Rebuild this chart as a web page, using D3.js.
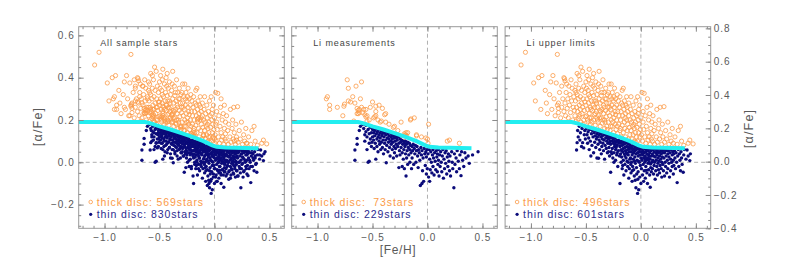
<!DOCTYPE html>
<html>
<head>
<meta charset="utf-8">
<script src="https://cdn.jsdelivr.net/npm/d3@7"></script>
<style>
body { margin: 0; background: #fff; }
svg { display: block; font-family: "Liberation Sans", Arial, sans-serif; }
</style>
</head>
<body>
<svg width="789" height="263"></svg>
<script>
// [Fe/H], [alpha/Fe]

// Li measurements, thick disc
var measThick = [[-0.73,0.39],[-0.72,0.35],[-0.65,0.36],[-0.60,0.38],[-0.92,0.30],[-0.91,0.31],[-0.89,0.27],[-0.89,0.25],
  [-0.82,0.26],[-0.77,0.22],[-0.76,0.265],[-0.755,0.275],[-0.72,0.29],[-0.70,0.285],[-0.61,0.30],[-0.64,0.255],[-0.63,0.245],
  [-0.62,0.235],[-0.63,0.23],[-0.64,0.23],[-0.62,0.25],[-0.58,0.25],[-0.56,0.25],[-0.55,0.22],[-0.56,0.215],[-0.53,0.20],
  [-0.52,0.26],[-0.50,0.285],[-0.47,0.265],[-0.44,0.27],[-0.41,0.255],[-0.47,0.24],[-0.47,0.22],[-0.48,0.215],[-0.49,0.21],
  [-0.38,0.23],[-0.39,0.225],[-0.43,0.19],[-0.42,0.195],[-0.38,0.19],[-0.67,0.195],[-0.24,0.19],[-0.15,0.205],[-0.12,0.21],
  [-0.21,0.135],[-0.20,0.13],[-0.19,0.125],[-0.195,0.14],[-0.21,0.125],[-0.18,0.14],[-0.10,0.13],[-0.055,0.12],[-0.015,0.115],
  [0.01,0.18],[0.005,0.09],[0.18,0.10],[0.20,0.105],[0.29,0.09],[-0.155,0.20],[-0.10,0.125],[0.0,0.11],[-0.57,0.225],
  [-0.59,0.235],[-0.60,0.26],[-0.66,0.28],[-0.68,0.31],[-0.35,0.18],[-0.31,0.165],[-0.27,0.15],[-0.30,0.17],[-0.55,0.195],
  [-0.45,0.20],[-0.22,0.115]];

// Li measurements, thin disc
var measThin = [[-0.66,0.058],[-0.66,0.01],[-0.64,0.113],[-0.64,0.085],[-0.62,0.15],[-0.61,0.17],
  [-0.59,0.18],[-0.58,0.16],[-0.57,0.13],[-0.57,0.10],[-0.56,0.175],[-0.56,0.145],[-0.55,0.12],[-0.55,0.06],[-0.54,0.0],
  [-0.54,0.155],[-0.53,0.09],[-0.53,0.135],[-0.53,0.005],[-0.52,0.165],[-0.52,0.11],[-0.51,0.14],[-0.51,0.075],[-0.50,0.155],
  [-0.50,0.12],[-0.505,0.095],
  [-0.495,0.16],[-0.49,0.14],[-0.49,0.105],[-0.485,0.065],[-0.48,0.15],[-0.48,0.125],[-0.475,0.09],[-0.47,0.015],[-0.47,0.158],
  [-0.465,0.135],[-0.46,0.11],[-0.46,0.075],[-0.455,0.145],[-0.45,0.12],[-0.45,0.05],[-0.445,0.155],[-0.44,0.10],[-0.44,0.13],
  [-0.435,0.085],[-0.43,0.14],[-0.43,0.115],[-0.425,0.06],[-0.42,0.15],[-0.42,0.095],[-0.415,0.125],[-0.41,0.135],[-0.41,0.07],
  [-0.405,0.105],[-0.40,0.145],[-0.40,0.04],
  [-0.395,0.12],[-0.39,0.14],[-0.39,0.09],[-0.385,0.06],[-0.38,0.13],[-0.38,0.105],[-0.375,-0.002],[-0.37,0.145],[-0.37,0.08],
  [-0.365,0.115],[-0.36,0.135],[-0.36,0.05],[-0.355,0.095],[-0.35,0.125],[-0.35,0.11],[-0.345,0.07],[-0.34,0.14],[-0.34,0.03],
  [-0.335,0.10],[-0.33,0.12],[-0.33,0.085],[-0.325,0.13],[-0.32,0.06],[-0.32,0.11],[-0.315,0.095],[-0.31,0.125],[-0.31,0.02],
  [-0.305,0.075],[-0.30,0.115],[-0.30,0.045],
  [-0.295,0.10],[-0.29,0.125],[-0.29,0.065],[-0.285,0.085],[-0.28,0.115],[-0.28,0.03],[-0.275,0.105],[-0.27,0.075],[-0.265,0.12],
  [-0.26,-0.025],[-0.26,0.09],[-0.255,0.055],[-0.25,0.11],[-0.25,0.035],[-0.245,0.095],[-0.24,0.07],[-0.235,0.105],[-0.23,-0.02],
  [-0.23,0.045],[-0.225,0.085],[-0.22,0.10],[-0.22,0.015],[-0.215,0.06],[-0.21,0.09],[-0.21,-0.03],[-0.205,0.075],[-0.20,0.04],
  [-0.20,0.10],
  [-0.195,-0.065],[-0.19,0.085],[-0.19,0.02],[-0.185,0.055],[-0.18,0.095],[-0.18,-0.01],[-0.175,0.07],[-0.17,0.035],[-0.165,0.09],
  [-0.16,0.0],[-0.16,0.06],[-0.155,0.08],[-0.15,0.045],[-0.145,-0.03],[-0.14,0.075],[-0.14,0.02],[-0.135,0.055],[-0.13,0.085],
  [-0.125,-0.01],[-0.12,0.065],[-0.115,0.04],[-0.11,0.08],[-0.105,0.0],[-0.10,0.055],
  [-0.095,0.075],[-0.09,0.03],[-0.085,-0.025],[-0.08,0.06],[-0.075,0.045],[-0.07,0.01],[-0.065,-0.11],[-0.06,0.07],[-0.055,0.035],
  [-0.05,-0.10],[-0.05,0.055],[-0.045,-0.04],[-0.04,0.02],[-0.035,-0.09],[-0.03,0.065],[-0.025,0.04],[-0.02,-0.015],[-0.015,0.05],
  [-0.01,-0.055],[-0.01,0.025],[-0.005,0.06],[-0.002,-0.03],
  [0.005,0.04],[0.01,-0.07],[0.015,0.06],[0.02,-0.09],[0.02,0.015],[0.025,-0.035],[0.03,0.05],[0.035,0.0],[0.04,-0.05],
  [0.045,0.035],[0.05,0.06],[0.05,-0.02],[0.055,0.02],[0.06,-0.06],[0.065,0.045],[0.07,0.005],[0.075,-0.035],[0.08,0.055],
  [0.085,0.025],[0.09,-0.045],[0.09,0.04],[0.095,-0.01],[0.10,0.06],[0.10,0.01],
  [0.105,-0.065],[0.11,0.035],[0.115,-0.02],[0.12,0.05],[0.125,0.0],[0.13,-0.045],[0.135,0.03],[0.14,0.06],[0.145,-0.075],
  [0.15,0.015],[0.155,-0.03],[0.16,0.045],[0.165,-0.005],[0.17,0.055],[0.175,-0.055],[0.18,0.025],[0.185,-0.02],[0.19,0.04],
  [0.195,0.005],[0.20,-0.04],
  [0.205,0.03],[0.21,-0.065],[0.22,0.05],[0.225,0.0],[0.23,-0.03],[0.24,-0.12],[0.245,0.04],[0.25,-0.01],[0.26,0.02],
  [0.265,-0.045],[0.27,0.055],[0.28,0.005],[0.29,-0.03],[0.295,0.035],
  [0.305,-0.063],[0.31,0.05],[0.32,0.01],[0.33,-0.02],[0.34,0.045],[0.35,0.02],[0.37,0.03],[0.38,-0.005],
  [0.41,0.035],[0.46,0.05]];

// Li upper limits, thick disc
var upperThick = [[-1.09,0.46],[-1.05,0.52],[-0.975,0.375],[-0.96,0.29],[-0.93,0.40],[-0.91,0.25],
  [-0.90,0.41],[-0.87,0.34],[-0.86,0.28],[-0.85,0.23],[-0.83,0.32],[-0.82,0.38],[-0.81,0.25],[-0.80,0.41],
  [-0.79,0.30],[-0.78,0.22],[-0.77,0.375],[-0.76,0.51],[-0.76,0.27],[-0.75,0.28],[-0.75,0.235],[-0.75,0.255],[-0.74,0.33],
  [-0.73,0.21],[-0.72,0.36],[-0.72,0.26],[-0.71,0.30],[-0.70,0.40],
  [-0.70,0.24],[-0.695,0.395],[-0.69,0.385],[-0.69,0.28],[-0.685,0.22],[-0.68,0.33],[-0.675,0.37],[-0.67,0.255],[-0.665,0.30],
  [-0.66,0.21],[-0.655,0.36],[-0.65,0.27],[-0.645,0.32],[-0.64,0.235],[-0.635,0.39],[-0.63,0.29],[-0.625,0.35],[-0.62,0.20],
  [-0.615,0.26],[-0.61,0.31],[-0.605,0.245],[-0.60,0.34],
  [-0.60,0.22],[-0.595,0.29],[-0.59,0.37],[-0.59,0.195],[-0.585,0.26],[-0.58,0.32],[-0.58,0.42],[-0.575,0.24],[-0.57,0.30],
  [-0.57,0.205],[-0.565,0.35],[-0.56,0.27],[-0.56,0.215],[-0.555,0.39],[-0.55,0.31],[-0.55,0.25],[-0.545,0.19],[-0.54,0.28],
  [-0.54,0.34],[-0.535,0.23],[-0.53,0.43],[-0.53,0.26],[-0.525,0.30],[-0.52,0.20],[-0.52,0.36],[-0.515,0.245],[-0.51,0.285],
  [-0.51,0.33],[-0.505,0.215],[-0.50,0.27],[-0.50,0.38],[-0.545,0.45],[-0.565,0.41],[-0.59,0.33],[-0.555,0.225],[-0.525,0.18],
  [-0.495,0.22],[-0.49,0.30],[-0.49,0.41],[-0.485,0.25],[-0.48,0.19],[-0.48,0.34],[-0.475,0.28],[-0.47,0.23],[-0.47,0.44],
  [-0.465,0.31],[-0.46,0.26],[-0.46,0.18],[-0.455,0.37],[-0.45,0.21],[-0.45,0.29],[-0.445,0.33],[-0.44,0.245],[-0.44,0.40],
  [-0.435,0.27],[-0.43,0.20],[-0.43,0.315],[-0.425,0.225],[-0.42,0.35],[-0.42,0.26],[-0.415,0.175],[-0.41,0.29],[-0.41,0.38],
  [-0.405,0.24],[-0.40,0.21],[-0.40,0.32],[-0.495,0.35],[-0.485,0.20],[-0.475,0.39],[-0.465,0.21],[-0.455,0.25],[-0.445,0.19],
  [-0.435,0.36],[-0.425,0.29],[-0.415,0.23],[-0.405,0.28],[-0.475,0.32],[-0.43,0.42],
  [-0.395,0.26],[-0.39,0.19],[-0.39,0.34],[-0.385,0.22],[-0.38,0.30],[-0.38,0.43],[-0.375,0.245],[-0.37,0.17],[-0.37,0.28],
  [-0.365,0.36],[-0.36,0.21],[-0.36,0.315],[-0.355,0.25],[-0.35,0.185],[-0.35,0.29],[-0.345,0.39],[-0.34,0.23],[-0.34,0.27],
  [-0.335,0.33],[-0.33,0.20],[-0.33,0.16],[-0.325,0.30],[-0.32,0.245],[-0.32,0.35],[-0.315,0.215],[-0.31,0.28],[-0.31,0.17],
  [-0.305,0.32],[-0.30,0.235],[-0.30,0.26],[-0.395,0.20],[-0.385,0.37],[-0.375,0.21],[-0.365,0.24],[-0.355,0.33],[-0.345,0.20],
  [-0.335,0.26],[-0.325,0.19],[-0.315,0.30],[-0.305,0.155],
  [-0.295,0.19],[-0.29,0.28],[-0.29,0.37],[-0.285,0.22],[-0.28,0.15],[-0.28,0.31],[-0.275,0.25],[-0.27,0.37],[-0.27,0.20],
  [-0.265,0.27],[-0.26,0.17],[-0.26,0.33],[-0.255,0.23],[-0.25,0.29],[-0.25,0.14],[-0.245,0.21],[-0.24,0.26],[-0.24,0.35],
  [-0.235,0.18],[-0.23,0.30],[-0.23,0.225],[-0.225,0.155],[-0.22,0.27],[-0.22,0.20],[-0.215,0.32],[-0.21,0.24],[-0.21,0.135],
  [-0.205,0.29],[-0.20,0.18],[-0.20,0.22],[-0.295,0.33],[-0.285,0.26],[-0.275,0.17],[-0.265,0.30],[-0.255,0.19],[-0.245,0.31],
  [-0.235,0.24],[-0.215,0.17],
  [-0.195,0.26],[-0.19,0.15],[-0.19,0.31],[-0.185,0.20],[-0.18,0.24],[-0.18,0.12],[-0.175,0.28],[-0.17,0.175],[-0.17,0.34],
  [-0.165,0.22],[-0.16,0.35],[-0.16,0.14],[-0.155,0.25],[-0.15,0.19],[-0.15,0.29],[-0.145,0.16],[-0.14,0.23],[-0.14,0.12],
  [-0.135,0.27],[-0.13,0.20],[-0.13,0.31],[-0.125,0.15],[-0.12,0.24],[-0.12,0.18],[-0.115,0.11],[-0.11,0.22],[-0.11,0.28],
  [-0.105,0.165],[-0.10,0.20],[-0.10,0.13],[-0.185,0.16],[-0.165,0.27],[-0.145,0.21],[-0.125,0.26],
  [-0.095,0.25],[-0.09,0.15],[-0.09,0.31],[-0.085,0.19],[-0.08,0.11],[-0.08,0.23],[-0.075,0.17],[-0.07,0.27],[-0.07,0.13],
  [-0.065,0.21],[-0.06,0.10],[-0.06,0.16],[-0.055,0.24],[-0.05,0.19],[-0.05,0.14],[-0.045,0.29],[-0.04,0.12],[-0.04,0.22],
  [-0.035,0.165],[-0.03,0.31],[-0.03,0.10],[-0.025,0.20],[-0.02,0.14],[-0.02,0.25],[-0.015,0.18],[-0.01,0.12],[-0.01,0.27],
  [-0.005,0.155],[0.0,0.21],[-0.065,0.18],[-0.045,0.095],[-0.025,0.23],
  [0.005,0.13],[0.01,0.33],[0.015,0.10],[0.02,0.19],[0.025,0.155],[0.03,0.326],[0.035,0.12],[0.04,0.22],[0.045,0.09],
  [0.05,0.17],[0.055,0.26],[0.06,0.14],[0.065,0.105],[0.07,0.20],[0.075,0.12],[0.08,0.23],[0.085,0.085],[0.09,0.16],
  [0.09,0.27],[0.095,0.11],[0.10,0.19],[0.10,0.135],[0.02,0.24],[0.06,0.30],
  [0.105,0.10],[0.11,0.22],[0.12,0.15],[0.125,0.085],[0.13,0.18],[0.14,0.12],[0.145,0.25],[0.15,0.095],[0.16,0.16],
  [0.165,0.20],[0.17,0.11],[0.175,0.26],[0.18,0.14],[0.19,0.085],[0.195,0.18],[0.20,0.12],
  [0.21,0.263],[0.215,0.095],[0.225,0.15],[0.235,0.11],[0.245,0.19],[0.255,0.085],[0.265,0.13],[0.275,0.10],[0.285,0.16],
  [0.295,0.09],[0.31,0.12],[0.33,0.085],[0.34,0.15],[0.36,0.17],[0.37,0.10],[0.39,0.08],
  [0.43,0.09],[0.445,0.105],[0.475,0.087]];

// Li upper limits, thin disc
var upperThin = [[-0.585,0.058],[-0.58,0.093],[-0.575,0.15],[-0.57,0.12],[-0.56,0.17],[-0.555,0.105],[-0.55,0.14],
  [-0.54,0.075],[-0.535,0.16],[-0.53,0.093],[-0.52,0.068],[-0.515,0.13],[-0.51,0.15],[-0.505,0.11],
  [-0.495,0.16],[-0.49,0.13],[-0.485,0.09],[-0.48,0.145],[-0.475,0.115],[-0.47,0.06],[-0.465,0.155],[-0.46,0.10],[-0.455,0.03],
  [-0.45,0.135],[-0.445,0.08],[-0.44,0.15],[-0.435,0.12],[-0.43,0.045],[-0.425,0.14],[-0.42,0.095],[-0.415,0.125],[-0.41,0.15],
  [-0.41,0.07],[-0.405,0.11],[-0.40,0.135],[-0.40,0.02],
  [-0.395,0.12],[-0.39,0.145],[-0.39,0.085],[-0.385,0.019],[-0.38,0.13],[-0.38,0.105],[-0.375,0.06],[-0.37,0.14],[-0.37,0.095],
  [-0.365,0.12],[-0.36,0.04],[-0.36,0.135],[-0.355,0.075],[-0.35,0.11],[-0.35,0.125],[-0.345,0.09],[-0.34,0.14],[-0.34,0.055],
  [-0.335,0.105],[-0.33,0.13],[-0.33,0.015],[-0.325,0.08],[-0.32,0.115],[-0.32,0.135],[-0.315,0.065],[-0.31,0.10],[-0.31,0.125],
  [-0.305,0.045],[-0.30,0.09],[-0.30,0.12],
  [-0.295,0.11],[-0.29,0.125],[-0.29,0.07],[-0.285,0.03],[-0.28,0.10],[-0.28,0.115],[-0.275,-0.047],[-0.275,0.085],[-0.27,0.12],
  [-0.27,0.05],[-0.265,0.10],[-0.26,0.065],[-0.26,0.115],[-0.255,0.02],[-0.25,0.09],[-0.25,0.11],[-0.245,0.045],[-0.24,0.10],
  [-0.24,0.075],[-0.235,0.115],[-0.23,0.01],[-0.23,0.06],[-0.225,0.095],[-0.22,0.105],[-0.22,0.035],[-0.215,0.08],[-0.21,0.10],
  [-0.21,-0.02],[-0.205,0.055],[-0.20,0.09],[-0.20,0.105],[-0.295,0.05],[-0.285,0.09],[-0.265,0.04],[-0.245,0.0],[-0.235,0.085],
  [-0.225,0.07],[-0.215,0.045],
  [-0.195,0.10],[-0.19,0.075],[-0.19,-0.10],[-0.185,0.04],[-0.185,0.09],[-0.18,0.06],[-0.18,0.0],[-0.175,0.10],[-0.175,0.025],
  [-0.17,0.08],[-0.17,-0.03],[-0.165,0.05],[-0.165,0.095],[-0.16,0.065],[-0.16,0.01],[-0.155,0.085],[-0.155,-0.06],[-0.15,0.04],
  [-0.15,0.10],[-0.145,0.07],[-0.145,-0.01],[-0.14,0.055],[-0.14,0.09],[-0.135,0.02],[-0.135,-0.04],[-0.13,0.075],[-0.13,0.045],
  [-0.125,0.095],[-0.125,0.005],[-0.12,0.06],[-0.12,-0.02],[-0.115,0.085],[-0.115,0.035],[-0.11,0.07],[-0.11,-0.075],[-0.105,0.05],
  [-0.105,0.09],[-0.10,0.015],[-0.10,0.065],[-0.195,0.03],[-0.175,0.055],[-0.165,-0.015],[-0.145,0.03],[-0.125,0.04],[-0.115,0.0],
  [-0.105,-0.03],
  [-0.095,0.08],[-0.095,0.02],[-0.09,0.05],[-0.09,-0.05],[-0.085,0.07],[-0.085,0.0],[-0.08,0.035],[-0.08,-0.09],[-0.075,0.06],
  [-0.075,-0.02],[-0.07,0.08],[-0.07,0.015],[-0.065,0.045],[-0.065,-0.035],[-0.06,0.065],[-0.06,-0.065],[-0.055,0.025],
  [-0.055,0.055],[-0.05,-0.005],[-0.05,0.075],[-0.045,0.04],[-0.045,-0.12],[-0.04,0.06],[-0.04,-0.025],[-0.035,0.01],[-0.035,0.07],
  [-0.03,0.045],[-0.03,-0.147],[-0.025,-0.045],[-0.025,0.03],[-0.02,0.065],[-0.02,-0.13],[-0.015,0.0],[-0.015,0.05],[-0.01,-0.07],
  [-0.01,0.035],[-0.005,0.07],[-0.005,-0.015],[0.0,0.02],[0.0,-0.10],[-0.092,-0.01],[-0.072,0.045],[-0.058,0.005],[-0.042,0.08],
  [-0.038,-0.055],[-0.022,0.005],[-0.012,0.06],[-0.052,-0.085],[-0.078,-0.04],[-0.028,-0.08],
  [0.005,0.05],[0.005,-0.03],[0.01,0.065],[0.01,0.01],[0.015,-0.06],[0.015,0.035],[0.02,0.055],[0.02,-0.01],[0.025,0.02],
  [0.025,-0.09],[0.03,0.045],[0.03,-0.04],[0.035,0.065],[0.035,0.0],[0.04,0.03],[0.04,-0.075],[0.045,0.05],[0.045,-0.02],
  [0.05,0.01],[0.05,0.06],[0.055,-0.05],[0.055,0.04],[0.06,0.02],[0.06,-0.10],[0.065,0.055],[0.065,-0.005],[0.07,0.035],
  [0.07,-0.035],[0.075,0.065],[0.075,0.0],[0.08,0.045],[0.08,-0.06],[0.085,-0.118],[0.085,0.015],[0.09,0.055],[0.09,-0.025],
  [0.095,0.03],[0.095,-0.045],[0.10,0.06],[0.10,0.0],[0.012,0.042],[0.032,0.022],[0.048,-0.038],[0.058,0.068],[0.068,0.012],
  [0.078,0.028],[0.088,-0.008],[0.042,0.012],
  [0.105,0.04],[0.105,-0.03],[0.11,0.06],[0.11,0.01],[0.115,-0.055],[0.115,0.03],[0.12,0.05],[0.12,-0.015],[0.125,0.065],
  [0.125,0.0],[0.13,-0.08],[0.13,0.025],[0.135,0.045],[0.135,-0.04],[0.14,0.06],[0.14,0.01],[0.145,-0.02],[0.145,0.035],
  [0.15,0.055],[0.15,-0.06],[0.155,0.02],[0.155,-0.005],[0.16,0.045],[0.16,-0.035],[0.165,0.065],[0.165,0.005],[0.17,0.03],
  [0.17,-0.05],[0.175,0.05],[0.175,-0.015],[0.18,0.015],[0.18,0.06],[0.185,-0.03],[0.185,0.04],[0.19,0.0],[0.19,-0.07],
  [0.195,0.055],[0.195,0.025],[0.20,-0.01],[0.20,0.045],
  [0.205,0.06],[0.205,-0.04],[0.21,0.02],[0.215,0.045],[0.215,-0.065],[0.22,0.0],[0.225,0.055],[0.225,-0.02],[0.23,0.03],
  [0.235,-0.05],[0.235,0.065],[0.24,0.01],[0.245,0.04],[0.245,-0.03],[0.25,0.055],[0.255,-0.005],[0.255,0.025],[0.26,-0.07],
  [0.265,0.045],[0.27,0.015],[0.27,-0.04],[0.275,0.06],[0.28,0.0],[0.285,0.035],[0.285,-0.02],[0.29,0.05],[0.295,0.01],
  [0.295,-0.055],[0.30,0.04],[0.30,-0.015],
  [0.305,0.055],[0.31,0.02],[0.315,-0.03],[0.32,0.045],[0.325,0.0],[0.33,-0.096],[0.335,0.03],[0.34,0.06],[0.345,-0.02],
  [0.35,0.04],[0.355,0.01],[0.36,-0.04],[0.365,0.05],[0.37,0.02],[0.375,-0.01],[0.385,-0.047],[0.39,0.035],[0.395,0.06],
  [0.41,0.015],[0.42,0.058],[0.43,0.03],[0.445,0.008],[0.45,0.04]];

// thick / thin separation line
var boundaryX = [-1.25, -0.63, -0.58, -0.5, -0.4, -0.3, -0.2, -0.1, -0.02, 0.02, 0.1, 0.4];
var boundaryY = [0.19, 0.19, 0.184, 0.17, 0.155, 0.138, 0.12, 0.1, 0.08, 0.073, 0.07, 0.066];

var panelTitles = ["All sample stars", "Li measurements", "Li upper limits"];
var thickCounts = [569, 73, 496];
var thinCounts = [830, 229, 601];

var xTicks = [-1.0, -0.5, 0.0, 0.5];
var yTicks = [-0.2, 0.0, 0.2, 0.4, 0.6];
var yRightTicks = [-0.4, -0.2, 0.0, 0.2, 0.4, 0.6, 0.8];

var svg = d3.select("svg");
var panelLeft = [78.7, 291.7, 505.1];
var panelW = 205.6, panelTop = 26.7, panelH = 201.6;
var orange = "#fb9b48", navy = "#0b0b7a", axisGrey = "#8a8a8a", textGrey = "#5a5a5a";

var x = d3.scaleLinear().domain([-1.235, 0.635]).range([0, panelW]);
var y = d3.scaleLinear().domain([-0.312, 0.641]).range([panelH, 0]);
var yRight = d3.scaleLinear().domain([-0.4, 0.81]).range([panelH, 0]);

var panels = [
  {thick: measThick.concat(upperThick), thin: measThin.concat(upperThin)},
  {thick: measThick, thin: measThin},
  {thick: upperThick, thin: upperThin}
];

var boundary = boundaryX.map(function(d, i) { return [d, boundaryY[i]]; });
var line = d3.line().x(function(d) { return x(d[0]); }).y(function(d) { return y(d[1]); });
var fmt = d3.format(".1f");
var count = d3.format("3d");

function minor(lo, hi, step) {
  return d3.range(Math.round(lo / step), Math.round(hi / step) + 1).map(function(k) { return +(k * step).toFixed(2); });
}

function styleAxis(g, labels) {
  g.select(".domain").remove();
  g.selectAll(".tick line").attr("stroke", axisGrey);
  g.selectAll(".tick text").attr("fill", textGrey).style("font-size", "10px").style("letter-spacing", "1px");
  if (!labels) g.selectAll(".tick text").remove();
}

function addAxis(g, gen, major, minorVals, labels, pad) {
  var a = g.append("g");
  a.call(gen.tickValues(major).tickSize(-5).tickSizeOuter(0).tickPadding(pad || 4).tickFormat(fmt));
  styleAxis(a, labels);
  var m = g.append("g");
  m.call(gen.tickValues(minorVals).tickSize(-2.5).tickSizeOuter(0).tickFormat(""));
  styleAxis(m, false);
}

panels.forEach(function(p, i) {
  var g = svg.append("g").attr("transform", "translate(" + panelLeft[i] + "," + panelTop + ")");

  g.append("clipPath").attr("id", "clip" + i)
    .append("rect").attr("width", panelW).attr("height", panelH);
  var plot = g.append("g").attr("clip-path", "url(#clip" + i + ")");

  plot.append("line").attr("x1", 0).attr("x2", panelW).attr("y1", y(0)).attr("y2", y(0))
    .attr("stroke", "#b0b0b0").attr("stroke-dasharray", "4,3");
  plot.append("line").attr("x1", x(0)).attr("x2", x(0)).attr("y1", 0).attr("y2", panelH)
    .attr("stroke", "#b0b0b0").attr("stroke-dasharray", "4,3");

  plot.selectAll(".thick").data(p.thick).enter().append("circle")
    .attr("cx", function(d) { return x(d[0]); })
    .attr("cy", function(d) { return y(d[1]); })
    .attr("r", 2.1)
    .attr("fill", "none").attr("stroke", orange).attr("stroke-width", 0.8);

  plot.selectAll(".thin").data(p.thin).enter().append("circle")
    .attr("cx", function(d) { return x(d[0]); })
    .attr("cy", function(d) { return y(d[1]); })
    .attr("r", 1.7)
    .attr("fill", navy);

  plot.append("path").datum(boundary).attr("d", line)
    .attr("fill", "none").attr("stroke", "#22eef0").attr("stroke-width", 4);

  g.append("rect").attr("width", panelW).attr("height", panelH)
    .attr("fill", "none").attr("stroke", "#999");

  var xMinor = minor(-1.2, 0.6, 0.1);
  var bottom = g.append("g").attr("transform", "translate(0," + panelH + ")");
  addAxis(bottom, d3.axisBottom(x), xTicks, xMinor, true, 6);
  addAxis(g.append("g"), d3.axisTop(x), xTicks, xMinor, false);

  var yMinor = minor(-0.3, 0.6, 0.05);
  addAxis(g.append("g"), d3.axisLeft(y), yTicks, yMinor, i === 0, 4);
  var right = g.append("g").attr("transform", "translate(" + panelW + ",0)");
  if (i === 2) {
    addAxis(right, d3.axisRight(yRight), yRightTicks, minor(-0.4, 0.8, 0.05), true, 3);
  } else {
    addAxis(right, d3.axisRight(y), yTicks, yMinor, false);
  }

  g.append("text").attr("x", 21.5).attr("y", 19.5)
    .attr("fill", "#444").style("font-size", "9px").style("letter-spacing", "0.9px")
    .text(panelTitles[i]);

  var leg = g.append("g").attr("transform", "translate(12," + (175.3) + ")");
  leg.append("circle").attr("r", 1.8).attr("fill", "none").attr("stroke", orange).attr("stroke-width", 0.8);
  leg.append("text").attr("x", 6).attr("y", 3.8).attr("fill", orange)
    .style("font-size", "10.5px").style("letter-spacing", "0.9px").style("white-space", "pre")
    .text("thick disc: " + count(thickCounts[i]) + "stars");
  leg.append("circle").attr("cy", 12.3).attr("r", 1.6).attr("fill", navy);
  leg.append("text").attr("x", 6).attr("y", 16.1).attr("fill", "#2b2b8e")
    .style("font-size", "10.5px").style("letter-spacing", "0.9px").style("white-space", "pre")
    .text("thin disc: " + count(thinCounts[i]) + "stars");
});

svg.append("text")
  .attr("transform", "translate(41.5,126.5) rotate(-90)")
  .attr("text-anchor", "middle").attr("fill", textGrey)
  .style("font-size", "12.5px").style("letter-spacing", "1.2px")
  .text("[α/Fe]");

svg.append("text")
  .attr("transform", "translate(752.5,128.5) rotate(-90)")
  .attr("text-anchor", "middle").attr("fill", textGrey)
  .style("font-size", "12.5px").style("letter-spacing", "1.2px")
  .text("[α/Fe]");

svg.append("text")
  .attr("x", 398).attr("y", 254)
  .attr("text-anchor", "middle").attr("fill", textGrey)
  .style("font-size", "12px").style("letter-spacing", "0.6px")
  .text("[Fe/H]");
</script>
</body>
</html>
